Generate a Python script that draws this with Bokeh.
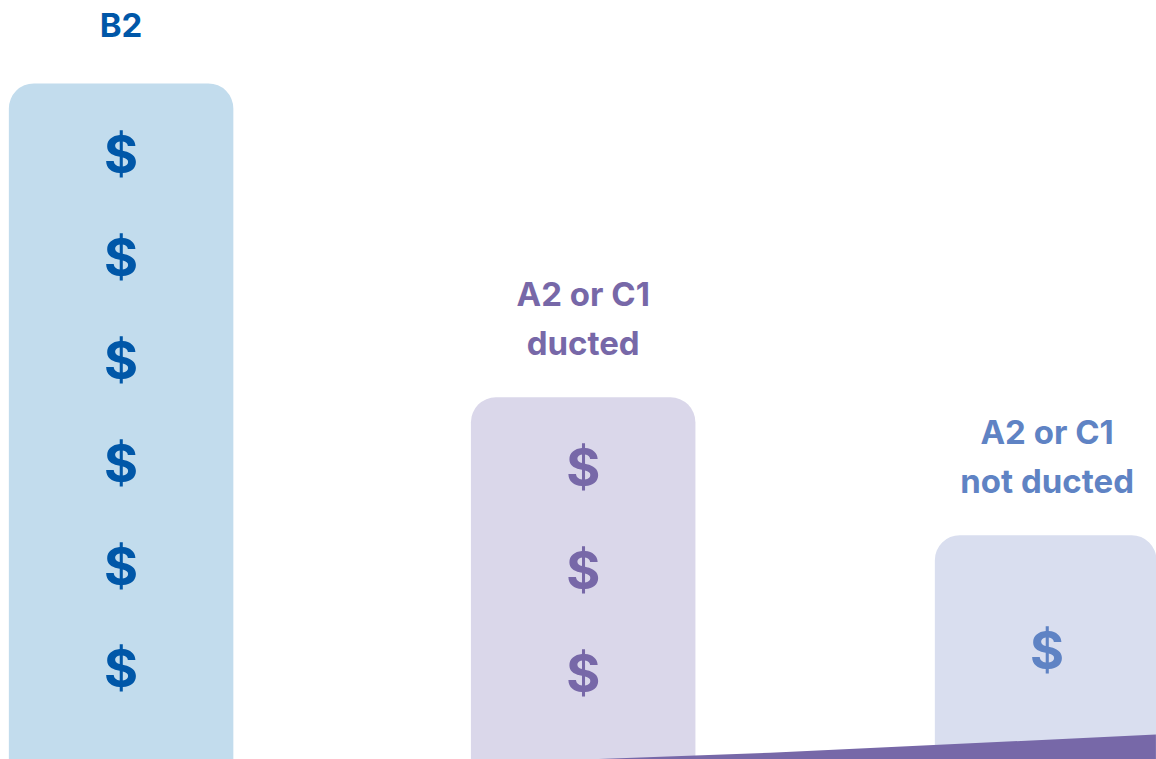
from bokeh.plotting import figure
from bokeh.models import Range1d
from bokeh.core.properties import value
from bokeh.embed import file_html
from bokeh.resources import INLINE

# Data (vertical unit = one "$" step)
label_line1 = ["B2", "A2 or C1", "A2 or C1"]
label_line2 = ["", "ducted", "not ducted"]
bar_slots = [0, 0.998, 2]
bar_tops = [6.57, 3.52, 2.18]
dollar_levels = [[5.88, 4.88, 3.88, 2.88, 1.88, 0.88], [2.84, 1.84, 0.84], [1.06]]
wedge_x = [1.002, 1.402, 2.235, 2.235, 1.002]
wedge_y = [0.0, 0.065, 0.243, -0.5, -0.5]
bar_colors = ["#c2dced", "#dad7ea", "#d9deef"]
text_colors = ["#0057a8", "#7768a8", "#5f83c4"]
wedge_color = "#7768a8"

PX_X = 463
PX_Y = 102.9
W, H = 1156, 759
x_start = -120.6 / PX_X

p = figure(width=W, height=H, output_backend="svg", toolbar_location=None,
           x_range=Range1d(x_start, x_start + W / PX_X),
           y_range=Range1d(0, H / PX_Y),
           x_axis_type=None, y_axis_type=None,
           min_border=0, outline_line_color=None)
p.grid.visible = False
p.background_fill_color = "white"
p.border_fill_color = "white"

p.vbar(x=bar_slots, top=bar_tops, bottom=-1, width=224.5 / PX_X,
       fill_color=bar_colors, line_color=None, border_radius=(25, 25, 0, 0))

dx, dy, dc = [], [], []
for i, levels in enumerate(dollar_levels):
    for lv in levels:
        dx.append(bar_slots[i]); dy.append(lv); dc.append(text_colors[i])
p.text(x=dx, y=dy, text=["$"] * len(dx), text_color=dc, text_align="center",
       text_baseline="middle", text_font=value("Inter"),
       text_font_size="52px", text_font_style="bold")

line1_y = [t + (1.00 if l2 else 0.57) for t, l2 in zip(bar_tops, label_line2)]
line2_y = [t + 0.525 for t in bar_tops]
for ys, txt in ((line1_y, label_line1), (line2_y, label_line2)):
    p.text(x=bar_slots, y=ys, text=txt, text_color=text_colors, text_align="center",
           text_baseline="middle", text_font=value("Inter"),
           text_font_size="33px", text_font_style="bold")

p.patch(wedge_x, wedge_y, fill_color=wedge_color, line_color=None)

open("out.html", "w").write(file_html(p, INLINE))
